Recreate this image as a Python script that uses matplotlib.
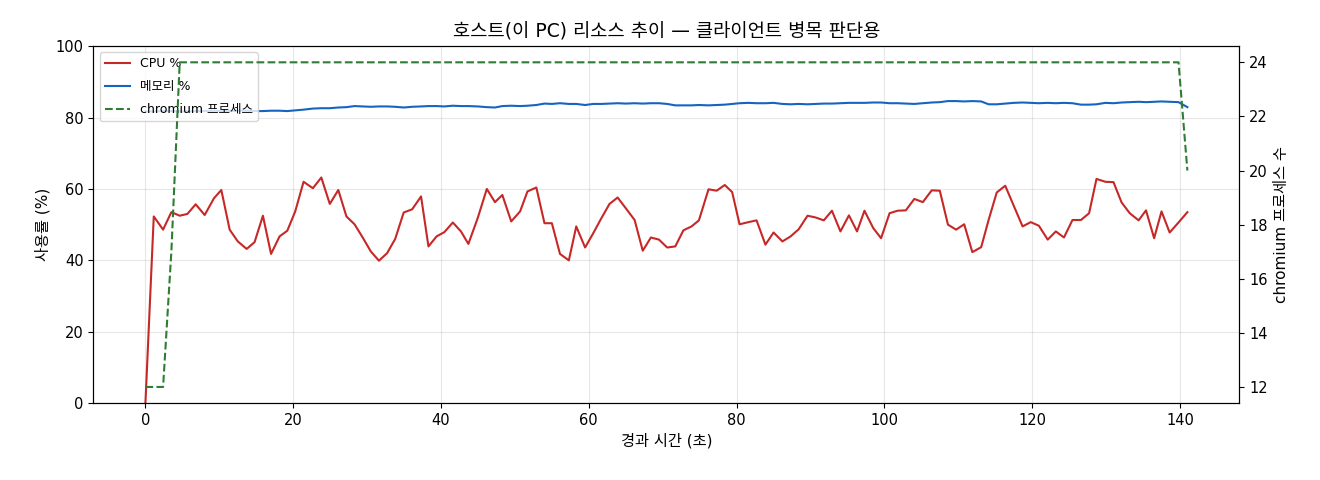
import matplotlib
matplotlib.use('Agg')
import matplotlib.pyplot as plt

# Latin glyphs from DejaVu, Korean falls back to Noto CJK
plt.rcParams['font.family'] = ['DejaVu Sans', 'Noto Sans CJK KR']
plt.rcParams['axes.unicode_minus'] = False

# elapsed seconds for each sample
elapsed = [
    0.0, 1.13, 2.39, 3.51, 4.64, 5.68, 6.8, 8.02, 9.28, 10.27,
    11.4, 12.5, 13.7, 14.77, 15.9, 17.0, 18.15, 19.2, 20.27, 21.4,
    22.66, 23.8, 24.95, 26.1, 27.2, 28.3, 29.4, 30.5, 31.6, 32.7,
    33.8, 34.95, 36.1, 37.3, 38.3, 39.4, 40.45, 41.6, 42.7, 43.7,
    44.96, 46.2, 47.3, 48.3, 49.5, 50.7, 51.7, 52.9, 54.0, 55.0,
    56.1, 57.3, 58.3, 59.5, 60.6, 61.7, 62.8, 63.9, 65.0, 66.2,
    67.3, 68.4, 69.5, 70.6, 71.7, 72.8, 73.9, 74.9, 76.2, 77.3,
    78.4, 79.4, 80.4, 81.6, 82.7, 83.9, 85.0, 86.2, 87.3, 88.4,
    89.6, 90.7, 91.8, 92.9, 94.05, 95.2, 96.3, 97.3, 98.5, 99.55,
    100.7, 101.8, 102.9, 104.05, 105.2, 106.4, 107.5, 108.6, 109.7, 110.8,
    111.9, 113.1, 114.1, 115.2, 116.35, 117.5, 118.7, 119.8, 120.9, 122.1,
    123.2, 124.3, 125.45, 126.6, 127.7, 128.7, 129.9, 131.0, 132.1, 133.2,
    134.4, 135.4, 136.5, 137.5, 138.6, 139.8, 141.0,
]

cpu_pct = [
    0.0, 52.3, 48.6, 53.5, 52.5, 53.0, 55.7, 52.7, 57.4, 59.7,
    48.6, 45.3, 43.2, 45.1, 52.5, 41.8, 46.7, 48.3, 53.7, 62.0,
    60.2, 63.2, 55.8, 59.7, 52.3, 50.1, 46.4, 42.5, 39.9, 42.0,
    46.0, 53.4, 54.3, 57.9, 43.9, 46.7, 47.9, 50.6, 48.1, 44.6,
    51.8, 60.0, 56.3, 58.3, 50.9, 53.7, 59.3, 60.4, 50.4, 50.4,
    41.8, 40.0, 49.5, 43.6, 47.6, 51.8, 55.8, 57.6, 54.6, 51.3,
    42.7, 46.4, 45.8, 43.6, 43.9, 48.4, 49.5, 51.2, 59.9, 59.5,
    61.1, 59.1, 50.1, 50.7, 51.2, 44.4, 47.8, 45.3, 46.7, 48.7,
    52.5, 52.0, 51.2, 53.9, 48.1, 52.6, 48.1, 53.9, 49.0, 46.2,
    53.2, 53.9, 54.0, 57.2, 56.3, 59.6, 59.5, 50.0, 48.6, 50.1,
    42.3, 43.7, 51.3, 59.0, 60.9, 55.3, 49.5, 50.7, 49.7, 45.8,
    48.1, 46.4, 51.3, 51.3, 53.2, 62.8, 62.0, 61.9, 56.2, 53.2,
    51.2, 54.0, 46.2, 53.7, 47.8, 50.6, 53.5,
]

mem_pct = [
    81.7, 81.7, 81.8, 81.8, 81.7, 81.7, 81.8, 81.8, 81.9, 81.8,
    81.8, 81.9, 81.9, 81.8, 81.8, 81.9, 81.9, 81.8, 82.0, 82.2,
    82.5, 82.6, 82.6, 82.8, 82.9, 83.2, 83.1, 83.0, 83.1, 83.1,
    83.0, 82.8, 83.0, 83.1, 83.2, 83.2, 83.1, 83.3, 83.2, 83.2,
    83.1, 82.9, 82.8, 83.2, 83.3, 83.2, 83.3, 83.5, 83.9, 83.8,
    84.0, 83.8, 83.8, 83.5, 83.8, 83.8, 83.9, 84.0, 83.9, 84.0,
    83.9, 84.0, 84.0, 83.8, 83.4, 83.4, 83.4, 83.5, 83.4, 83.5,
    83.6, 83.8, 84.0, 84.1, 84.0, 84.0, 84.1, 83.8, 83.7, 83.8,
    83.7, 83.8, 83.9, 83.9, 84.0, 84.1, 84.1, 84.1, 84.2, 84.2,
    84.0, 84.0, 83.9, 83.8, 84.0, 84.2, 84.3, 84.6, 84.6, 84.5,
    84.6, 84.5, 83.7, 83.7, 83.9, 84.1, 84.2, 84.1, 84.0, 84.1,
    84.0, 84.1, 84.0, 83.6, 83.6, 83.7, 84.1, 84.0, 84.2, 84.3,
    84.4, 84.3, 84.4, 84.5, 84.4, 84.3, 82.9,
]

chromium_count = [12, 12, 12, 17] + [24] * 122 + [20]

fig, ax = plt.subplots(figsize=(13.2, 4.8), dpi=100)
fig.subplots_adjust(left=0.0707, right=0.939, bottom=0.16, top=0.904)

ax.plot(elapsed, cpu_pct, color='#c62828', linewidth=1.5, label='CPU %')
ax.plot(elapsed, mem_pct, color='#1565c0', linewidth=1.5, label='메모리 %')
ax.set_ylim(0, 100)
ax.set_xlabel('경과 시간 (초)', fontsize=11)
ax.set_ylabel('사용률 (%)', fontsize=11)
ax.grid(True, alpha=0.3)
ax.tick_params(labelsize=10.5)

ax2 = ax.twinx()
ax2.plot(elapsed, chromium_count, color='#2e7d32', linestyle='--', linewidth=1.5,
         label='chromium 프로세스')
ax2.set_ylabel('chromium 프로세스 수', fontsize=11)
ax2.tick_params(labelsize=10.5)

h1, l1 = ax.get_legend_handles_labels()
h2, l2 = ax2.get_legend_handles_labels()
ax.legend(h1 + h2, l1 + l2, loc='upper left', fontsize=9, labelspacing=0.8)

ax.set_title('호스트(이 PC) 리소스 추이 — 클라이언트 병목 판단용', fontsize=13.5)

fig.savefig('out.png', dpi=100)
